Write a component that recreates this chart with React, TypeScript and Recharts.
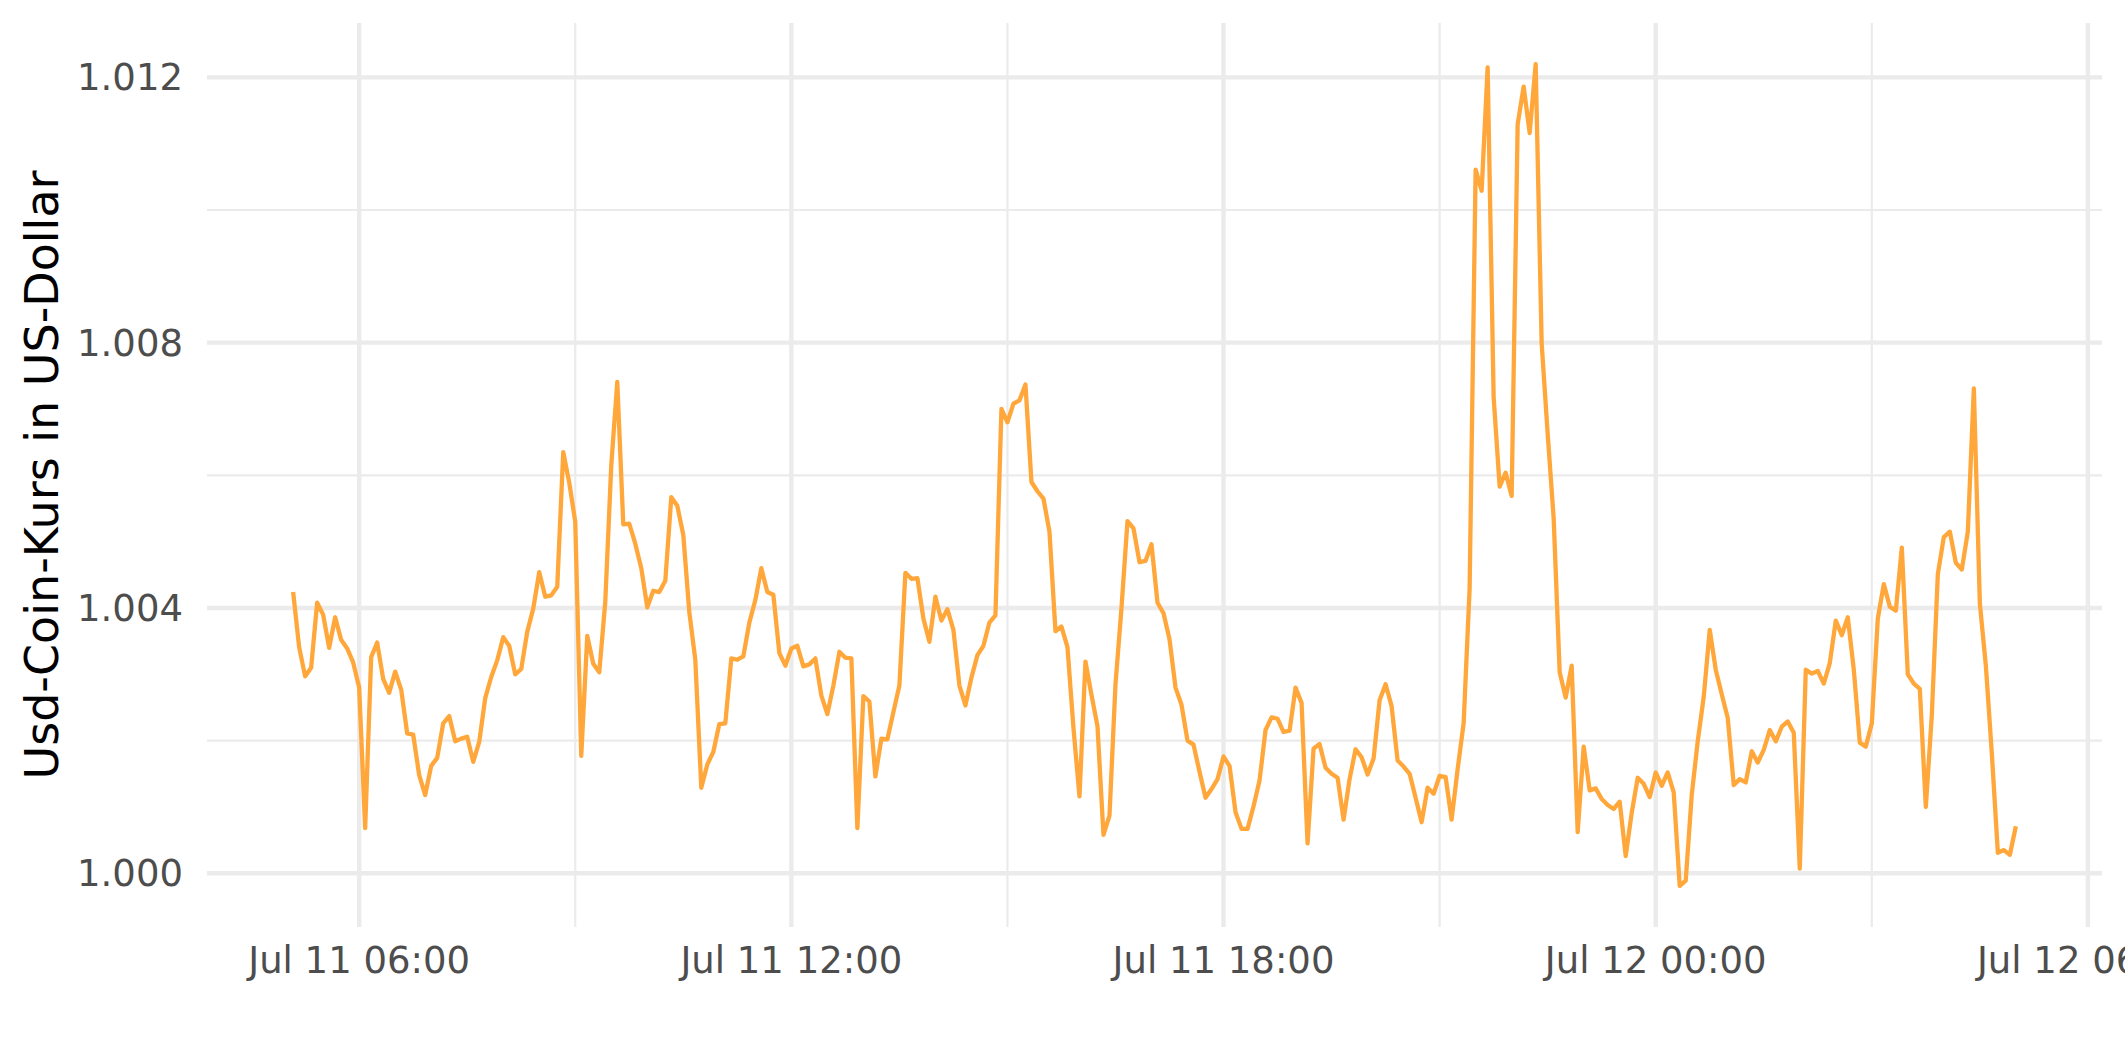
import { LineChart, Line, XAxis, YAxis, CartesianGrid } from 'recharts';

// 5-minute USDC quotes, Jul 11 05:05 -> Jul 12 05:00
const START_MINUTE = 305; // minutes after Jul 11 00:00
const STEP_MINUTES = 5;

const prices = [
  1.00424, 1.00341, 1.00297, 1.0031, 1.00408, 1.0039, 1.0034, 1.00386, 1.00352, 1.00339, 1.00318, 1.0028,
  1.00068, 1.00326, 1.00348, 1.00293, 1.00272, 1.00304, 1.00277, 1.00211, 1.00209, 1.00148, 1.00118, 1.00162,
  1.00174, 1.00226, 1.00237, 1.00199, 1.00203, 1.00206, 1.00168, 1.00198, 1.00264, 1.00296, 1.00321, 1.00356,
  1.00343, 1.003, 1.00308, 1.00364, 1.00399, 1.00454, 1.00417, 1.00419, 1.00432, 1.00635, 1.00589, 1.0053,
  1.00177, 1.00358, 1.00316, 1.00303, 1.00409, 1.00615, 1.00741, 1.00526, 1.00527, 1.00497, 1.0046, 1.00401,
  1.00426, 1.00424, 1.00441, 1.00567, 1.00554, 1.0051, 1.00394, 1.00322, 1.00129, 1.00164, 1.00183, 1.00225,
  1.00226, 1.00324, 1.00322, 1.00327, 1.00378, 1.00412, 1.0046, 1.00424, 1.0042, 1.00332, 1.00313, 1.00339,
  1.00343, 1.00312, 1.00315, 1.00324, 1.00268, 1.0024, 1.00283, 1.00334, 1.00325, 1.00324, 1.00068, 1.00267,
  1.00259, 1.00146, 1.00203, 1.00202, 1.00243, 1.00283, 1.00453, 1.00444, 1.00445, 1.00384, 1.00349, 1.00417,
  1.00381, 1.00398, 1.00367, 1.00283, 1.00253, 1.00295, 1.00329, 1.00343, 1.00378, 1.00389, 1.007, 1.0068,
  1.00708, 1.00713, 1.00737, 1.0059, 1.00576, 1.00565, 1.00515, 1.00365, 1.00372, 1.00341, 1.00219, 1.00116,
  1.00319, 1.00269, 1.00222, 1.00058, 1.00087, 1.00285, 1.004, 1.00531, 1.0052, 1.00469, 1.00471, 1.00496,
  1.00408, 1.00392, 1.00353, 1.0028, 1.00254, 1.002, 1.00194, 1.00153, 1.00114, 1.00127, 1.00142, 1.00176,
  1.00162, 1.00092, 1.00067, 1.00067, 1.00101, 1.0014, 1.00216, 1.00235, 1.00233, 1.00213, 1.00215, 1.0028,
  1.00257, 1.00045, 1.00188, 1.00195, 1.00159, 1.0015, 1.00144, 1.00081, 1.00142, 1.00187, 1.00175, 1.00149,
  1.00173, 1.00261, 1.00285, 1.00252, 1.0017, 1.00161, 1.0015, 1.00114, 1.00077, 1.00129, 1.0012, 1.00147,
  1.00145, 1.00081, 1.00157, 1.00226, 1.0043, 1.01061, 1.01029, 1.01215, 1.00718, 1.00583, 1.00604, 1.00569,
  1.01129, 1.01186, 1.01116, 1.0122, 1.00799, 1.00663, 1.00535, 1.00303, 1.00265, 1.00313, 1.00062, 1.00191,
  1.00125, 1.00128, 1.00112, 1.00103, 1.00097, 1.00108, 1.00026, 1.00091, 1.00144, 1.00135, 1.00115, 1.00152,
  1.00132, 1.00152, 1.00122, 0.99981, 0.99989, 1.00118, 1.00199, 1.00266, 1.00367, 1.00307, 1.0027, 1.00234,
  1.00133, 1.00142, 1.00137, 1.00184, 1.00167, 1.00186, 1.00216, 1.00199, 1.00221, 1.00229, 1.00212, 1.00007,
  1.00307, 1.00301, 1.00305, 1.00286, 1.00317, 1.00381, 1.00359, 1.00386, 1.00307, 1.00197, 1.00191, 1.00226,
  1.00384, 1.00436, 1.00402, 1.00396, 1.00491, 1.003, 1.00286, 1.00278, 1.001, 1.00239, 1.00451, 1.00507,
  1.00515, 1.00468, 1.00458, 1.00515, 1.00731, 1.00407, 1.00313, 1.0018, 1.00031, 1.00035, 1.00028, 1.00071,
];

const xTicks = [360, 720, 1080, 1440, 1800];
const xTickLabels = ['Jul 11 06:00', 'Jul 11 12:00', 'Jul 11 18:00', 'Jul 12 00:00', 'Jul 12 06:00'];
const xMinorTicks = [540, 900, 1260, 1620];
const yTicks = [1.0, 1.004, 1.008, 1.012];
const yMinorTicks = [1.002, 1.006, 1.01];

const data = prices.map((price, i) => ({ minute: START_MINUTE + i * STEP_MINUTES, price }));

// ggplot-style 5% padding around the data range
const expand = (lo: number, hi: number): [number, number] => {
  const pad = (hi - lo) * 0.05;
  return [lo - pad, hi + pad];
};
const xDomain = expand(data[0].minute, data[data.length - 1].minute);
const yDomain = expand(Math.min(...prices), Math.max(...prices));

const GRID = '#EBEBEB';
const TICK_TEXT = { fontSize: 37, fill: '#4D4D4D', fontFamily: 'DejaVu Sans' };

const YTitle = (props: any) => {
  const vb = props.viewBox || {};
  const cy = vb.y + vb.height / 2;
  return (
    <text
      x={58}
      y={cy}
      transform={`rotate(-90 58 ${cy})`}
      textAnchor="middle"
      fontSize={46}
      fontFamily="DejaVu Sans"
      fill="#000000"
    >
      Usd-Coin-Kurs in US-Dollar
    </text>
  );
};

const App = () => {
  return (
    <div
      style={{
        position: 'absolute',
        left: 0,
        top: 0,
        width: 2125,
        height: 1062,
        background: '#ffffff',
        fontFamily: 'DejaVu Sans',
        overflow: 'hidden',
      }}
    >
      <LineChart width={2125} height={1062} data={data} margin={{ top: 23, right: 23, bottom: 0, left: 0 }}>
        <CartesianGrid
          stroke={GRID}
          strokeWidth={2.2}
          horizontalValues={yMinorTicks}
          verticalValues={xMinorTicks}
        />
        <CartesianGrid stroke={GRID} strokeWidth={4.4} horizontalValues={yTicks} verticalValues={xTicks} />
        <XAxis
          dataKey="minute"
          type="number"
          domain={xDomain}
          ticks={xTicks}
          interval={0}
          tickFormatter={(v: number) => xTickLabels[xTicks.indexOf(v)]}
          tick={TICK_TEXT}
          axisLine={false}
          tickLine={false}
          tickSize={0}
          tickMargin={20}
          height={135}
          allowDataOverflow
        />
        <YAxis
          type="number"
          domain={yDomain}
          ticks={yTicks}
          interval={0}
          tickFormatter={(v: number) => v.toFixed(3)}
          tick={TICK_TEXT}
          axisLine={false}
          tickLine={false}
          tickSize={0}
          tickMargin={24}
          width={207}
          allowDataOverflow
          label={{ content: <YTitle /> }}
        />
        <Line
          type="linear"
          dataKey="price"
          stroke="#FFA73A"
          strokeWidth={4.3}
          strokeLinejoin="round"
          dot={false}
          activeDot={false}
          isAnimationActive={false}
        />
      </LineChart>
    </div>
  );
};

export default App;
